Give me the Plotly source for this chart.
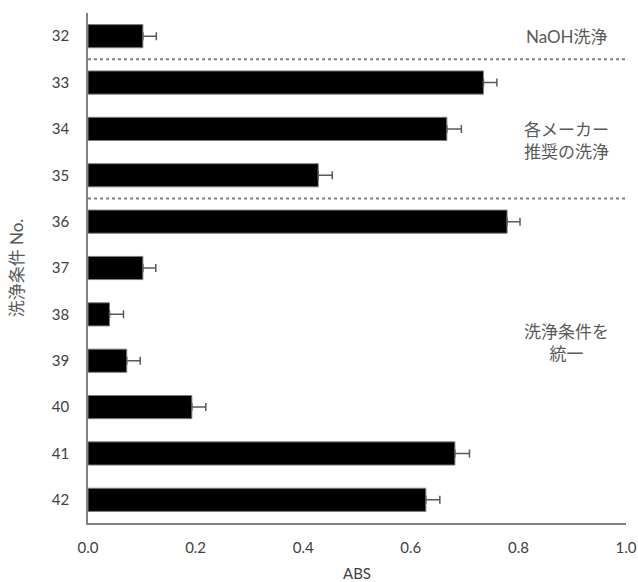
import plotly.graph_objects as go

conditions = [32, 33, 34, 35, 36, 37, 38, 39, 40, 41, 42]
abs_values = [0.102, 0.735, 0.667, 0.428, 0.779, 0.102, 0.040, 0.072, 0.193, 0.682, 0.628]
abs_errors = [0.025, 0.025, 0.027, 0.026, 0.024, 0.024, 0.026, 0.025, 0.026, 0.027, 0.026]
x_ticks = [0.0, 0.2, 0.4, 0.6, 0.8, 1.0]
group_labels = ["NaOH洗浄", "各メーカー<br>推奨の洗浄", "洗浄条件を<br>統一"]
group_label_rows = [32, 34.25, 38.6]
separators = [32.5, 35.5]

txt = "#404040"
txt_light = "#595959"
font_main = "Lato, Noto Sans CJK JP, sans-serif"
font_jp = "Lato, Noto Sans CJK JP, sans-serif"

fig = go.Figure(go.Bar(
    x=abs_values, y=conditions, orientation="h",
    width=0.5,
    marker=dict(color="black", line=dict(color="#7f7f7f", width=1)),
    error_x=dict(type="data", array=abs_errors, arrayminus=[0]*len(abs_errors),
                 symmetric=False, color="#595959", thickness=1.5, width=4),
))

for s in separators:
    fig.add_shape(type="line", xref="paper", yref="y", x0=0, x1=1, y0=s, y1=s,
                  line=dict(color="#808080", width=2, dash="dot"))

for lab, row in zip(group_labels, group_label_rows):
    fig.add_annotation(x=0.89, y=row, xref="x", yref="y", text=lab, showarrow=False,
                       font=dict(family=font_jp, size=17, color=txt_light), align="center")

fig.update_layout(
    width=638, height=582,
    margin=dict(l=88, r=12, t=13, b=59),
    plot_bgcolor="white", paper_bgcolor="white",
    showlegend=False,
    xaxis=dict(range=[0, 1.0], tickvals=x_ticks, ticktext=[f"{v:.1f}" for v in x_ticks],
               automargin=False, ticklabeloverflow="allow",
               showgrid=False, zeroline=False, showline=True, linecolor="#808080", linewidth=1.5,
               ticks="", ticklabelstandoff=10, tickfont=dict(family=font_main, size=15, color=txt),
               title=dict(text="ABS", font=dict(family=font_main, size=15, color=txt), standoff=19)),
    yaxis=dict(range=[42.5, 31.5], tickvals=conditions, ticktext=[str(c) for c in conditions],
               automargin=False,
               showgrid=False, zeroline=False, showline=True, linecolor="#808080", linewidth=1.5,
               ticks="", ticklabelstandoff=14, tickfont=dict(family=font_main, size=15, color=txt),
               title=dict(text="洗浄条件 No.", font=dict(family=font_jp, size=17, color=txt_light), standoff=24)),
)

fig.write_html("out.html", config={"displayModeBar": False},
               post_script="document.body.style.margin='0';document.body.style.overflow='hidden';")
